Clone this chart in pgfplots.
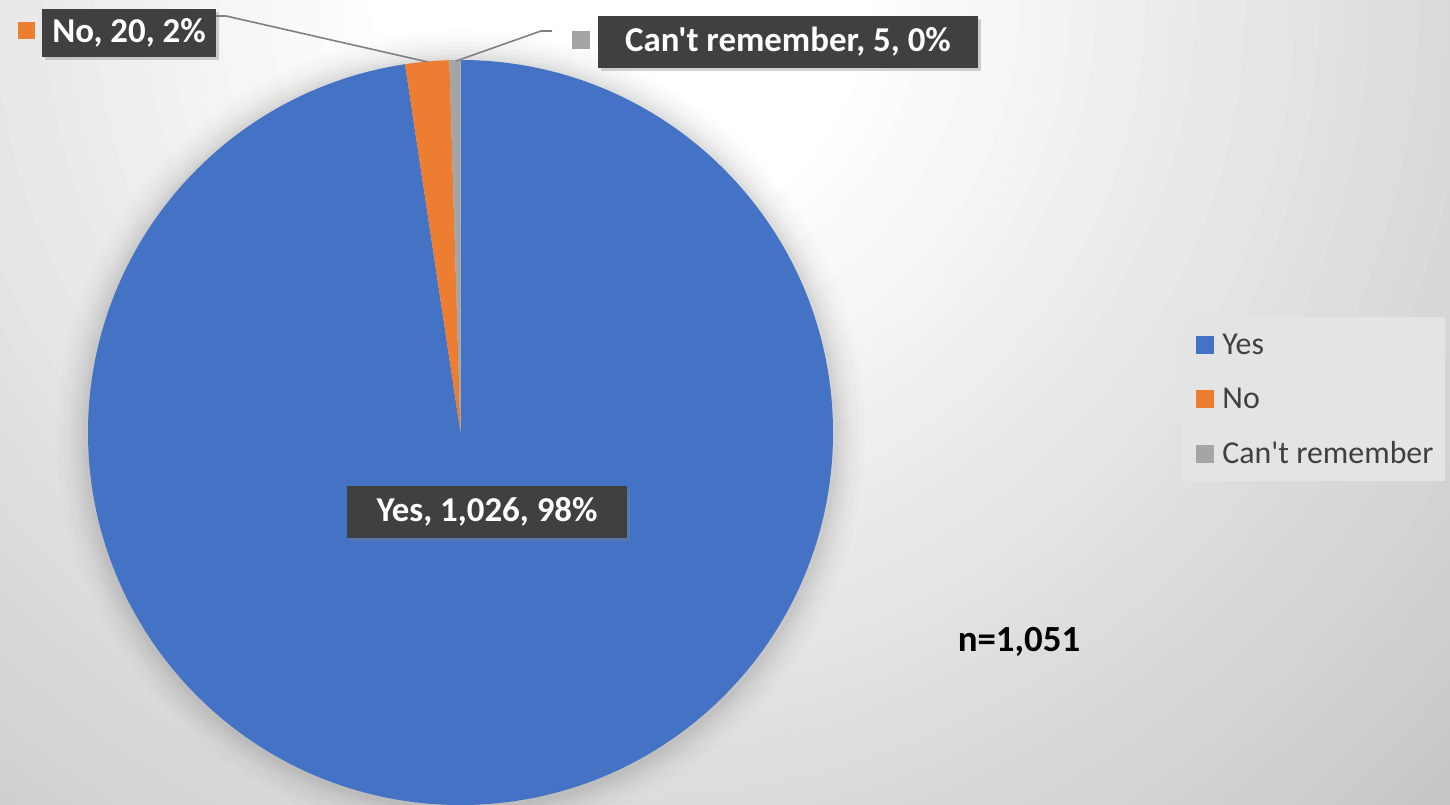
\documentclass[border=0pt]{standalone}
\usepackage{pgfplots}
\pgfplotsset{compat=1.18}
\usepackage{pgfplotstable}
\usepackage{fontspec}
\setmainfont{Carlito}[Ligatures=TeXOff]
\usetikzlibrary{shadows}

\definecolor{yescol}{HTML}{4472C4}
\definecolor{nocol}{HTML}{ED7D31}
\definecolor{cantcol}{HTML}{A5A5A5}
\definecolor{boxcol}{HTML}{404040}
\definecolor{leadcol}{HTML}{808080}
\definecolor{legtext}{HTML}{404040}
\definecolor{legfill}{HTML}{E4E4E4}

\pgfplotstableread{
label value
Yes 1026
No 20
Cant 5
}\pietable

\pgfplotstablegetelem{0}{value}\of\pietable \let\vA\pgfplotsretval
\pgfplotstablegetelem{1}{value}\of\pietable \let\vB\pgfplotsretval
\pgfplotstablegetelem{2}{value}\of\pietable \let\vC\pgfplotsretval
\pgfmathsetmacro{\vT}{\vA+\vB+\vC}
\pgfmathsetmacro{\fA}{\vA/\vT}
\pgfmathsetmacro{\fB}{\vB/\vT}
\pgfmathsetmacro{\fC}{\vC/\vT}
\pgfmathsetmacro{\aA}{90-360*\fA}
\pgfmathsetmacro{\aB}{\aA-360*\fB}
\pgfmathsetmacro{\aC}{\aB-360*\fC}

\newcommand{\labfont}{\fontsize{17.5}{20}\selectfont\bfseries}
\newcommand{\nfont}{\fontsize{18.5}{21}\selectfont\bfseries}
\newcommand{\legfont}{\fontsize{16}{19}\selectfont}

\begin{document}
\begin{tikzpicture}
% background (radial grey gradient, centred near top middle)
\begin{scope}
\clip (0,0) rectangle (725bp,402.5bp);
\fill[white] (0,0) rectangle (725bp,402.5bp);
\foreach \rr in {1250,1225,...,250}{
  \pgfmathsetmacro{\gv}{max(0.7,(255-0.062*(\rr-250))/255)}
  \definecolor{bgtmp}{gray}{\gv}
  \fill[bgtmp, overlay] (310bp,402.5bp) circle[radius=\rr*0.5bp];
}
\end{scope}
\begin{axis}[
  at={(0,0)}, anchor=south west,
  width=725bp, height=402.5bp, scale only axis,
  xmin=0, xmax=1450, ymin=0, ymax=805, y dir=reverse,
  axis lines=none, ticks=none, clip=false,
]
\begin{scope}
\clip (axis cs:0,0) rectangle (axis cs:1450,805);
% pie shadow
\fill[black, opacity=0.012] (axis cs:461,434) circle[radius=202bp];
\fill[black, opacity=0.014] (axis cs:461,434) circle[radius=199bp];
\fill[black, opacity=0.016] (axis cs:461,434) circle[radius=196bp];
\fill[black, opacity=0.018] (axis cs:461,434) circle[radius=194bp];
\fill[black, opacity=0.02] (axis cs:461,434) circle[radius=192bp];
\fill[black, opacity=0.022] (axis cs:461,434) circle[radius=190bp];
\fill[black, opacity=0.025] (axis cs:461,434) circle[radius=188.5bp];
% pie
\fill[yescol] (axis cs:460.5,432.5) -- ++(90:186.25bp) arc[start angle=90, end angle=\aA, radius=186.25bp] -- cycle;
\fill[nocol] (axis cs:460.5,432.5) -- ++(\aA:186.25bp) arc[start angle=\aA, end angle=\aB, radius=186.25bp] -- cycle;
\fill[cantcol] (axis cs:460.5,432.5) -- ++(\aB:186.25bp) arc[start angle=\aB, end angle=\aC, radius=186.25bp] -- cycle;
\end{scope}

% leader lines
\draw[leadcol, line width=0.8bp] (axis cs:216,16) -- (axis cs:226,16) -- (axis cs:428,62);
\draw[leadcol, line width=0.8bp] (axis cs:552,31) -- (axis cs:541,31) -- (axis cs:456,61);

% data labels
\fill[nocol] (axis cs:18,22) rectangle (axis cs:35,39);
\node[fill=boxcol, text=white, font=\labfont, inner sep=0pt, minimum width=87bp, minimum height=24bp,
  drop shadow={opacity=0.35, shadow xshift=1.5bp, shadow yshift=-1.5bp}] at (axis cs:129,33) {No, 20, 2\%};
\fill[cantcol] (axis cs:572,31) rectangle (axis cs:590,49);
\node[fill=boxcol, text=white, font=\labfont, inner sep=0pt, minimum width=190bp, minimum height=26bp,
  drop shadow={opacity=0.35, shadow xshift=1.5bp, shadow yshift=-1.5bp}] at (axis cs:788,42) {Can't remember, 5, 0\%};
\node[fill=boxcol, text=white, font=\labfont, inner sep=0pt, minimum width=140bp, minimum height=26bp,
  drop shadow={opacity=0.35, shadow xshift=1.5bp, shadow yshift=-1.5bp}] at (axis cs:487,512) {Yes, 1,026, 98\%};

% legend
\fill[legfill] (axis cs:1182,317) rectangle (axis cs:1445,481);
\fill[yescol] (axis cs:1196,336) rectangle (axis cs:1214,354);
\fill[nocol] (axis cs:1196,390) rectangle (axis cs:1214,408);
\fill[cantcol] (axis cs:1196,445) rectangle (axis cs:1214,463);
\node[anchor=base west, inner sep=0pt, text=legtext, font=\legfont] at (axis cs:1222,354) {Yes};
\node[anchor=base west, inner sep=0pt, text=legtext, font=\legfont] at (axis cs:1222,408) {No};
\node[anchor=base west, inner sep=0pt, text=legtext, font=\legfont] at (axis cs:1222,463) {Can't remember};

% n
\node[font=\nfont, text=black, inner sep=0pt] at (axis cs:1019,642) {n=1,051};
\end{axis}
\end{tikzpicture}
\end{document}
